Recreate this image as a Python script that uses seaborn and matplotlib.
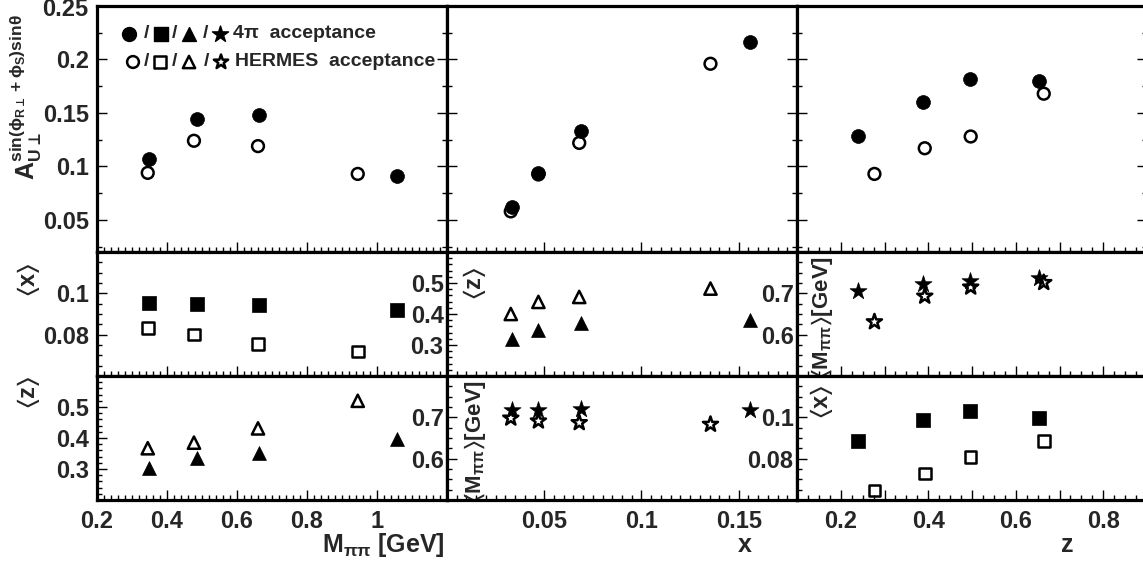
import numpy as np
import pandas as pd
import matplotlib
matplotlib.use("Agg")
import matplotlib.pyplot as plt
import seaborn as sns
from matplotlib.ticker import MultipleLocator, FixedLocator, FuncFormatter

# ---------------- data ----------------
# vs M_pipi
m_4pi = [0.349, 0.486, 0.663, 1.057]
m_herm = [0.345, 0.477, 0.660, 0.945]
A_m_4pi = [0.107, 0.144, 0.148, 0.091]
A_m_herm = [0.094, 0.124, 0.119, 0.093]
xavg_m_4pi = [0.0952, 0.0950, 0.0944, 0.0920]
xavg_m_herm = [0.0833, 0.0800, 0.0756, 0.0718]
zavg_m_4pi = [0.302, 0.334, 0.351, 0.398]
zavg_m_herm = [0.367, 0.385, 0.431, 0.520]

# vs x
x_4pi = [0.0333, 0.0470, 0.0690, 0.1560]
x_herm = [0.0328, 0.0470, 0.0680, 0.1355]
A_x_4pi = [0.062, 0.094, 0.133, 0.216]
A_x_herm = [0.058, 0.0925, 0.122, 0.196]
zavg_x_4pi = [0.319, 0.347, 0.371, 0.382]
zavg_x_herm = [0.400, 0.439, 0.455, 0.482]
mavg_x_4pi = [0.717, 0.717, 0.719, 0.717]
mavg_x_herm = [0.698, 0.691, 0.687, 0.683]

# vs z
z_4pi = [0.239, 0.389, 0.496, 0.653]
z_herm = [0.277, 0.392, 0.497, 0.664]
A_z_4pi = [0.128, 0.160, 0.182, 0.180]
A_z_herm = [0.093, 0.117, 0.128, 0.168]
mavg_z_4pi = [0.705, 0.723, 0.729, 0.737]
mavg_z_herm = [0.631, 0.693, 0.715, 0.726]
xavg_z_4pi = [0.0884, 0.0986, 0.1033, 0.0998]
xavg_z_herm = [0.0646, 0.0729, 0.0808, 0.0884]

# tick labels
xt_m = [0.2, 0.4, 0.6, 0.8, 1.0]
xt_x = [0.05, 0.1, 0.15]
xt_z = [0.2, 0.4, 0.6, 0.8]
yt_A = [0.05, 0.1, 0.15, 0.2, 0.25]
yt_x = [0.08, 0.1]
yt_z = [0.3, 0.4, 0.5]
yt_M = [0.6, 0.7]

legend_label1 = "4π  acceptance"
legend_label2 = "HERMES  acceptance"

# ---------------- style ----------------
sns.set_style("white")
plt.rcParams['font.family'] = ['Liberation Sans', 'DejaVu Sans']
plt.rcParams['font.weight'] = 'bold'
plt.rcParams['mathtext.fontset'] = 'custom'
plt.rcParams['mathtext.rm'] = 'Liberation Sans:bold'
plt.rcParams['mathtext.it'] = 'Liberation Sans:bold'
plt.rcParams['mathtext.bf'] = 'Liberation Sans:bold'
plt.rcParams['mathtext.sf'] = 'Liberation Sans:bold'
plt.rcParams['mathtext.fallback'] = 'stixsans'
plt.rcParams['mathtext.default'] = 'rm'

W, H = 1143, 564
fig = plt.figure(figsize=(W / 100, H / 100), dpi=100)

col_x = [97, 447, 797]
col_w = 350
row_y = [(6, 252), (252, 376), (376, 500)]

FS = 17

def add_ax(c, r):
    x0 = col_x[c]
    y0, y1 = row_y[r]
    return fig.add_axes([x0 / W, (H - y1) / H, col_w / W, (y1 - y0) / H])

axes = [[add_ax(c, r) for c in range(3)] for r in range(3)]

S = {'o': (100, 72), 's': (92, 70), '^': (100, 78), '*': (165, 130)}
LW_OPEN = 1.8

def draw(ax, xs, ys, marker, filled):
    if filled:
        sns.scatterplot(x=xs, y=ys, ax=ax, marker=marker, s=S[marker][0], color='black',
                        edgecolor='black', linewidth=0.5, legend=False, zorder=3)
    else:
        sns.scatterplot(x=xs, y=ys, ax=ax, marker=marker, s=S[marker][1], facecolor='none',
                        edgecolor='black', linewidth=LW_OPEN, legend=False, zorder=4)

# row 0: asymmetries
draw(axes[0][0], m_4pi, A_m_4pi, 'o', True)
draw(axes[0][0], m_herm, A_m_herm, 'o', False)
draw(axes[0][1], x_4pi, A_x_4pi, 'o', True)
draw(axes[0][1], x_herm, A_x_herm, 'o', False)
draw(axes[0][2], z_4pi, A_z_4pi, 'o', True)
draw(axes[0][2], z_herm, A_z_herm, 'o', False)
# row 1
draw(axes[1][0], m_4pi, xavg_m_4pi, 's', True)
draw(axes[1][0], m_herm, xavg_m_herm, 's', False)
draw(axes[1][1], x_4pi, zavg_x_4pi, '^', True)
draw(axes[1][1], x_herm, zavg_x_herm, '^', False)
draw(axes[1][2], z_4pi, mavg_z_4pi, '*', True)
draw(axes[1][2], z_herm, mavg_z_herm, '*', False)
# row 2
draw(axes[2][0], m_4pi, zavg_m_4pi, '^', True)
draw(axes[2][0], m_herm, zavg_m_herm, '^', False)
draw(axes[2][1], x_4pi, mavg_x_4pi, '*', True)
draw(axes[2][1], x_herm, mavg_x_herm, '*', False)
draw(axes[2][2], z_4pi, xavg_z_4pi, 's', True)
draw(axes[2][2], z_herm, xavg_z_herm, 's', False)

def yfmt(v, p):
    v = round(v, 4)
    if v == max(yt_A):
        return ''   # drawn separately, nudged below the top edge
    return '%g' % v

fmt = FuncFormatter(lambda v, p: '%g' % round(v, 4))

xlims = [(0.2, 1.2), (0.0, 0.18), (0.1, 0.9)]
xmajors = [xt_m, xt_x, [0.1, 0.2, 0.3, 0.4, 0.5, 0.6, 0.7, 0.8, 0.9]]
xminors = [0.02, 0.005, 0.025]
ylims = [[(0.02, 0.25)] * 3,
         [(0.06, 0.12), (0.2, 0.6), (0.5, 0.8)],
         [(0.2, 0.6), (0.5, 0.8), (0.06, 0.12)]]
ymajors = [[yt_A] * 3, [yt_x, yt_z, yt_M], [yt_z, yt_M, yt_x]]
yminors = [[0.025] * 3, [0.005, 0.02, 0.025], [0.02, 0.025, 0.005]]

def xfmt_right(v, p):
    v = round(v, 3)
    return ('%g' % v) if v in xt_z else ''

for r in range(3):
    for c in range(3):
        ax = axes[r][c]
        ax.set_xlim(*xlims[c])
        ax.set_ylim(*ylims[r][c])
        ax.set_xlabel('')
        ax.set_ylabel('')
        for sp in ax.spines.values():
            sp.set_linewidth(2.3)
            sp.set_color('black')
        ax.xaxis.set_major_locator(FixedLocator(xmajors[c]))
        ax.xaxis.set_minor_locator(MultipleLocator(xminors[c]))
        ax.yaxis.set_major_locator(FixedLocator(ymajors[r][c]))
        ax.yaxis.set_minor_locator(MultipleLocator(yminors[r][c]))
        if c == 2:
            ax.xaxis.set_major_formatter(FuncFormatter(xfmt_right))
        else:
            ax.xaxis.set_major_formatter(fmt)
        if r == 0:
            ax.yaxis.set_major_formatter(FuncFormatter(yfmt))
        else:
            ax.yaxis.set_major_formatter(fmt)
        ypad = 6 if c == 0 else 2.5
        ax.tick_params(axis='x', which='both', direction='in', bottom=True, top=False,
                       labelbottom=(r == 2), labelsize=FS, pad=7, width=1, color='black')
        ax.tick_params(axis='y', which='both', direction='in', left=True,
                       right=(r == 0), labelleft=(r != 0 or c == 0), labelsize=FS,
                       pad=ypad, width=1, color='black')
        ax.tick_params(which='major', length=7)
        ax.tick_params(which='minor', length=3.5)
        for lab in ax.get_xticklabels() + ax.get_yticklabels():
            lab.set_fontweight('bold')

# top tick label of the asymmetry axis, slightly below the frame edge as in the reference
axes[0][0].text((88 - 97) / 350, (252 - 9.5) / 246, '%g' % max(yt_A),
                transform=axes[0][0].transAxes, fontsize=FS, fontweight='bold',
                ha='right', va='center')

# y titles
def ylab(ax, text, x, y, fs=FS):
    ax.set_ylabel(text, fontsize=fs, fontweight='bold', ha='center', va='center')
    ax.yaxis.set_label_coords(x, y)

ylab(axes[0][0], r"$A_{U\bot}^{sin(\phi_{R\bot}+\phi_S)sin\theta}$", -0.205, 0.63, 18)
ylab(axes[1][0], r"$\langle x\rangle$", -0.197, 0.774)
ylab(axes[2][0], r"$\langle z\rangle$", -0.197, 0.871)
ylab(axes[1][1], r"$\langle z\rangle$", 0.08, 0.75)
ylab(axes[1][2], r"$\langle M_{\pi\pi}\rangle$[GeV]", 0.071, 0.468, 16)
ylab(axes[2][1], r"$\langle M_{\pi\pi}\rangle$[GeV]", 0.08, 0.476, 16)
ylab(axes[2][2], r"$\langle x\rangle$", 0.071, 0.79)

# x titles
def xlab(ax, text, x, y):
    ax.set_xlabel(text, fontsize=FS + 1, fontweight='bold', ha='center', va='center')
    ax.xaxis.set_label_coords(x, y)

xlab(axes[2][0], r"M$_{\pi\pi}$ [GeV]", 0.817, -0.363)
xlab(axes[2][1], "x", 0.851, -0.363)
xlab(axes[2][2], "z", 0.771, -0.363)

# legend (symbols + text) in the top-left panel
lax = axes[0][0]
def px2ax(px, py):
    return (px - 97) / 350, (252 - py) / 246

leg_rows = [
    (34, [129, 161, 189, 220], True, 233, legend_label1),
    (62, [133, 160, 189, 221], False, 235, legend_label2),
]
for py, mxs, filled, tx, label in leg_rows:
    for mk, mx in zip(['o', 's', '^', '*'], mxs):
        ax_x, ax_y = px2ax(mx, py)
        size = S[mk][0] if filled else S[mk][1]
        if mk == '*':
            size = size * 0.9
        if filled:
            lax.scatter([ax_x], [ax_y], s=size, marker=mk, color='black',
                        transform=lax.transAxes, clip_on=False, zorder=5)
        else:
            lax.scatter([ax_x], [ax_y], s=size, marker=mk, facecolor='none',
                        edgecolor='black', linewidth=LW_OPEN,
                        transform=lax.transAxes, clip_on=False, zorder=5)
    for a, b in zip(mxs[:-1], mxs[1:]):
        sx = (a + b) / 2 + (1 if b - a > 29 else 0)
        ax_x, ax_y = px2ax(sx, py)
        lax.text(ax_x, ax_y, "/", transform=lax.transAxes, fontsize=14,
                 fontweight='bold', ha='center', va='center')
    ax_x, ax_y = px2ax(tx, py)
    lax.text(ax_x, ax_y, label, transform=lax.transAxes, fontsize=14,
             fontweight='bold', ha='left', va='center')

fig.savefig("out.png", dpi=100)
